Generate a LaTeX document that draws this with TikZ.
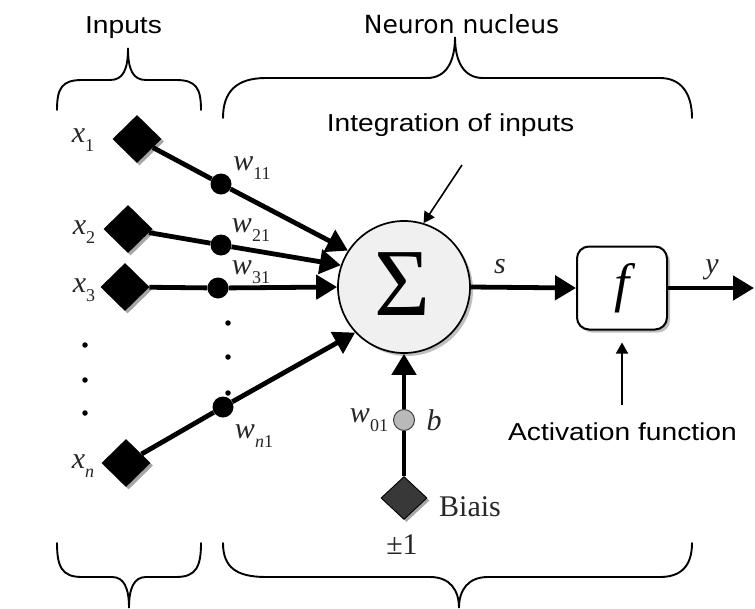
\documentclass[tikz,border=0pt]{standalone}
\usepackage{fontspec}
\setmainfont{Liberation Serif}
\newfontfamily\capfont{Liberation Sans}[FakeStretch=1.15]
\newfontfamily\headfont{DejaVu Sans}
\usetikzlibrary{arrows.meta,shapes.geometric,shadows}

% lowered index for the variable labels
\newcommand\lsub[1]{\raisebox{-0.3em}{\fontsize{18}{18}\selectfont #1}}

\begin{document}
\begin{tikzpicture}[x=1pt,y=-1pt,
  caption/.style={font=\capfont\fontsize{24.5}{24.5}\selectfont, anchor=base, inner sep=0},
  heading/.style={font=\headfont\fontsize{25}{25}\selectfont, anchor=base, inner sep=0},
  var/.style={font=\fontsize{30}{30}\selectfont, text=black!85, inner sep=0},
  wire/.style={line width=4.8pt},
  bigarrow/.style={-{Triangle[length=21pt,width=24pt]}},
  thinarrow/.style={line width=1.6pt,-{Triangle[length=11pt,width=12pt]}},
  brace/.style={line width=1.9pt, line cap=round},
  inputbox/.style={diamond, fill=black, minimum width=49pt, minimum height=48pt, inner sep=0,
    drop shadow={shadow xshift=2.5pt, shadow yshift=-2.5pt, fill=gray!70, opacity=1}},
  weight/.style={circle, fill=black, minimum size=21pt, inner sep=0},
  smalldot/.style={circle, fill=black, minimum size=5.5pt, inner sep=0}
]
\useasboundingbox (0,0) rectangle (755,608);

% headings and captions
\node[caption] (tin) at (123.5,33) {Inputs};
\node[heading] (tnuc) at (461.5,33) {Neuron nucleus};
\node[caption] (tint) at (450.5,131) {Integration of inputs};
\node[caption] (tact) at (622.5,440) {Activation function};

% braces
\draw[brace] (57,110) .. controls (57,88) and (62,80) .. (82,80) -- (110,80)
  .. controls (123,80) and (128,70) .. (128,48)
  .. controls (128,70) and (133,80) .. (146,80) -- (176,80)
  .. controls (196,80) and (201,88) .. (201,110);
\draw[brace] (223,118) .. controls (223,92) and (236,78) .. (266,78) -- (427,78)
  .. controls (446,78) and (455,62) .. (455,37)
  .. controls (455,62) and (464,78) .. (483,78) -- (660,78)
  .. controls (680,78) and (692,92) .. (692,118);
\draw[brace] (57,543) .. controls (57,567) and (62,577) .. (82,577) -- (112,577)
  .. controls (124,577) and (129,588) .. (129,608)
  .. controls (129,588) and (134,577) .. (146,577) -- (176,577)
  .. controls (196,577) and (201,567) .. (201,543);
\draw[brace] (223,543) .. controls (223,567) and (236,577) .. (266,577) -- (430,577)
  .. controls (450,577) and (459,590) .. (459,608)
  .. controls (459,590) and (468,577) .. (488,577) -- (660,577)
  .. controls (680,577) and (692,567) .. (692,543);

% summation and activation blocks
\node[circle, draw, line width=1.7pt, fill=gray!12, minimum size=132pt, inner sep=0,
  drop shadow={shadow xshift=3pt, shadow yshift=-3pt, fill=gray!50, opacity=1}] (sum) at (404,287) {};
\node[font=\fontsize{96}{96}\selectfont, inner sep=0] (sigma) at (402,284) {Σ};
\node[draw, rounded corners=12pt, line width=2pt, fill=white, minimum width=90pt,
  minimum height=83pt, inner sep=0,
  drop shadow={shadow xshift=3pt, shadow yshift=-3pt, fill=gray!50, opacity=1},
  font=\itshape\fontsize{54}{54}\selectfont] (act) at (622,288) {f};

% inputs
\node[inputbox] (x1) at (137,139) {};
\node[inputbox] (x2) at (128,229) {};
\node[inputbox] (x3) at (125,287) {};
\node[inputbox] (xn) at (126,463) {};
\node[weight] (d1) at (221,184) {};
\node[weight] (d2) at (221,245) {};
\node[weight] (d3) at (218,288) {};
\node[weight] (dn) at (223,407) {};

\draw[wire] (x1) -- (d1);
\draw[wire] (x2) -- (d2);
\draw[wire] (x3) -- (d3);
\draw[wire] (xn) -- (dn);
\draw[wire,bigarrow] (d1) -- (sum.147);
\draw[wire,bigarrow] (d2) -- (sum.161);
\draw[wire,bigarrow] (d3) -- (sum.180);
\draw[wire,bigarrow] (dn) -- (sum.223);

% ellipsis dots
\node[smalldot] (e1) at (85,345) {};
\node[smalldot] (e2) at (85,380) {};
\node[smalldot] (e3) at (85,413) {};
\node[smalldot] (e4) at (228,323) {};
\node[smalldot] (e5) at (228,357) {};
\node[smalldot] (e6) at (228,393) {};

% bias branch
\node[diamond, fill=black!78, draw=black, line width=0.9pt, minimum width=46pt,
  minimum height=43pt, inner sep=0,
  drop shadow={shadow xshift=2.5pt, shadow yshift=-2.5pt, fill=gray!70, opacity=1}] (bias) at (404,498) {};
\node[circle, fill=gray!55, draw=black!75, line width=1pt, minimum size=21pt, inner sep=0] (bw) at (404,420) {};
\draw[wire] (bias) -- (bw);
\draw[wire,bigarrow] (bw) -- (sum.south);

% signal flow
\coordinate (yend) at (754,288);
\draw[wire,bigarrow] (sum.east) -- (act.west);
\draw[wire,bigarrow] (act.east) -- (yend);

% pointer arrows
\coordinate (intstart) at (462,165);
\coordinate (actstart) at (622,405);
\draw[thinarrow] (intstart) -- (sum.73);
\draw[thinarrow] (actstart) -- ([yshift=-12pt]act.south);

% variable labels
\node[var] (lx1) at (83,140) {{\itshape x}\lsub{1}};
\node[var] (lx2) at (84,232) {{\itshape x}\lsub{2}};
\node[var] (lx3) at (84,290) {{\itshape x}\lsub{3}};
\node[var] (lxn) at (83,466) {{\itshape x}\lsub{\itshape n}};
\node[var] (lw1) at (252,168) {{\itshape w}\lsub{11}};
\node[var] (lw2) at (251,230) {{\itshape w}\lsub{21}};
\node[var] (lw3) at (251,272) {{\itshape w}\lsub{31}};
\node[var] (lwn) at (254,436) {{\itshape w}\lsub{{\itshape n}1}};
\node[var] (lw0) at (369,420) {{\itshape w}\lsub{01}};
\node[var] (lb) at (434,420) {\itshape b};
\node[var] (ls) at (500,267) {\itshape s};
\node[var] (ly) at (712,270) {\itshape y};
\node[var] (lbias) at (470,507) {Biais};
\node[var] (lpm) at (402,545) {±1};
\end{tikzpicture}
\end{document}
